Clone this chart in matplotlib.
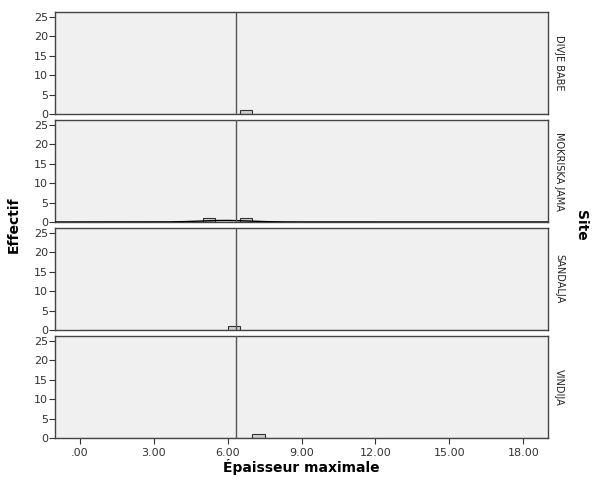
import numpy as np
import matplotlib
matplotlib.use("Agg")
import matplotlib.pyplot as plt

# data
sites = ["DIVJE BABE", "MOKRISKA JAMA", "SANDALJA", "VINDIJA"]
values = {
    "DIVJE BABE": [6.6],
    "MOKRISKA JAMA": [5.2, 6.6],
    "SANDALJA": [6.1],
    "VINDIJA": [7.2],
}
bin_edges = np.arange(0, 19.01, 0.5)
x_ticks = [0, 3, 6, 9, 12, 15, 18]
x_labels = [".00", "3.00", "6.00", "9.00", "12.00", "15.00", "18.00"]
y_ticks = [0, 5, 10, 15, 20, 25]

all_vals = [v for s in sites for v in values[s]]
mean_all = np.mean(all_vals)

fig = plt.figure(figsize=(5.94, 4.82), dpi=100)
W, H = 594.0, 482.0
left, right = 55 / W, 548 / W
tops = [12, 120, 228, 336]
ph = 102

edge = "#444444"
for i, site in enumerate(sites):
    ax = fig.add_axes([left, 1 - (tops[i] + ph) / H, right - left, ph / H])
    ax.set_facecolor("#f0f0f0")
    data = values[site]
    counts, edges = np.histogram(data, bins=bin_edges)
    ax.bar(edges[:-1], counts, width=0.5, align="edge", color="#d0d0d0",
           edgecolor="#333333", linewidth=0.8, zorder=2)
    # normal curve when more than one value
    if len(data) > 1:
        m = np.mean(data)
        sd = np.std(data, ddof=1)
        xs = np.linspace(-1, 19, 600)
        ys = len(data) * 0.5 * np.exp(-0.5 * ((xs - m) / sd) ** 2) / (sd * np.sqrt(2 * np.pi))
        ax.plot(xs, ys, color="black", linewidth=1.0, zorder=3)
    ax.axvline(mean_all, color="#555555", linewidth=1.0, zorder=4)
    ax.set_xlim(-1, 19)
    ax.set_ylim(0, 26.3)
    ax.set_yticks(y_ticks)
    ax.tick_params(axis="y", labelsize=8, length=4, width=0.8, color="#333333",
                   labelcolor="#333333", pad=1)
    ax.set_xticks(x_ticks)
    if i == len(sites) - 1:
        ax.set_xticklabels(x_labels)
        ax.tick_params(axis="x", labelsize=8, length=4, width=0.8, color="#333333",
                       labelcolor="#333333", pad=3)
    else:
        ax.tick_params(axis="x", length=0, labelbottom=False)
    for sp in ax.spines.values():
        sp.set_color(edge)
        sp.set_linewidth(1.0)
    ax.text(1.012, 0.5, site, transform=ax.transAxes, rotation=-90,
            ha="left", va="center", fontsize=7, color="#222222")

fig.text(14 / W, 1 - 225 / H, "Effectif", rotation=90, ha="center", va="center",
         fontsize=10, fontweight="bold")
fig.text(581 / W, 1 - 225 / H, "Site", rotation=-90, ha="center", va="center",
         fontsize=10, fontweight="bold")
fig.text(301 / W, 1 - 467 / H, "Épaisseur maximale", ha="center", va="center",
         fontsize=10, fontweight="bold")

fig.savefig("out.png", dpi=100, facecolor="white")
